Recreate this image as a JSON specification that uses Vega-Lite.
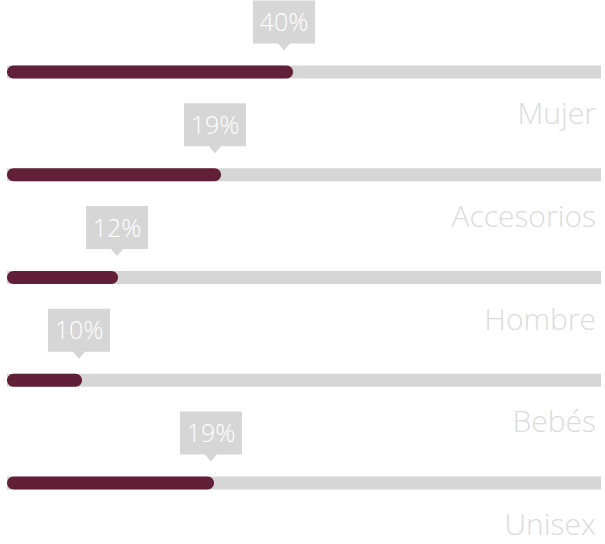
{
  "$schema": "https://vega.github.io/schema/vega-lite/v6.json",
  "width": 594,
  "height": 544,
  "autosize": "none",
  "padding": {"left": 7, "right": 4, "top": 0, "bottom": 0},
  "background": "white",
  "config": {"view": {"stroke": null}},
  "data": {
    "values": [
      {"row": 1, "category": "Mujer", "label": "40%", "bar": 48.15, "tip": 46.63},
      {"row": 2, "category": "Accesorios", "label": "19%", "bar": 36.03, "tip": 35.02},
      {"row": 3, "category": "Hombre", "label": "12%", "bar": 18.69, "tip": 18.52},
      {"row": 4, "category": "Bebés", "label": "10%", "bar": 12.63, "tip": 12.12},
      {"row": 5, "category": "Unisex", "label": "19%", "bar": 34.85, "tip": 34.34}
    ]
  },
  "layer": [
    {
      "mark": {"type": "bar", "orient": "horizontal", "size": 13, "color": "#d6d6d6"},
      "encoding": {
        "y": {"field": "row", "type": "quantitative", "axis": null, "scale": {"domain": [1, 5], "range": [72, 483], "nice": false, "zero": false, "padding": 0}},
        "x": {"datum": 0, "type": "quantitative", "axis": null, "scale": {"domain": [0, 100], "nice": false, "padding": 0}},
        "x2": {"datum": 100, "type": "quantitative"}
      }
    },
    {
      "mark": {"type": "bar", "orient": "horizontal", "size": 13, "color": "#621f38", "cornerRadius": 6.5},
      "encoding": {
        "y": {"field": "row", "type": "quantitative", "axis": null, "scale": {"domain": [1, 5], "range": [72, 483], "nice": false, "zero": false, "padding": 0}},
        "x": {"field": "bar", "type": "quantitative", "axis": null, "stack": null, "scale": {"domain": [0, 100], "nice": false, "padding": 0}},
        "x2": {"datum": 0, "type": "quantitative"}
      }
    },
    {
      "mark": {"type": "point", "filled": true, "opacity": 1, "color": "#d6d6d6", "size": 3844, "yOffset": -50,
        "shape": "M-1,-0.694L1,-0.694L1,0.694L0.194,0.694L0,0.92L-0.194,0.694L-1,0.694Z"},
      "encoding": {
        "y": {"field": "row", "type": "quantitative", "axis": null, "scale": {"domain": [1, 5], "range": [72, 483], "nice": false, "zero": false, "padding": 0}},
        "x": {"field": "tip", "type": "quantitative", "axis": null, "scale": {"domain": [0, 100], "nice": false, "padding": 0}}
      }
    },
    {
      "mark": {"type": "text", "color": "#ffffff", "font": "Open Sans", "fontWeight": 300, "fontSize": 25, "align": "center", "baseline": "alphabetic", "yOffset": -41},
      "encoding": {
        "y": {"field": "row", "type": "quantitative", "axis": null, "scale": {"domain": [1, 5], "range": [72, 483], "nice": false, "zero": false, "padding": 0}},
        "x": {"field": "tip", "type": "quantitative", "axis": null, "scale": {"domain": [0, 100], "nice": false, "padding": 0}},
        "text": {"field": "label", "type": "nominal"}
      }
    },
    {
      "mark": {"type": "text", "color": "#dcdcdc", "font": "Open Sans", "fontWeight": 300, "fontSize": 30, "align": "right", "baseline": "alphabetic", "yOffset": 52, "dx": -5},
      "encoding": {
        "y": {"field": "row", "type": "quantitative", "axis": null, "scale": {"domain": [1, 5], "range": [72, 483], "nice": false, "zero": false, "padding": 0}},
        "x": {"datum": 100, "type": "quantitative", "axis": null, "scale": {"domain": [0, 100], "nice": false, "padding": 0}},
        "text": {"field": "category", "type": "nominal"}
      }
    }
  ]
}
